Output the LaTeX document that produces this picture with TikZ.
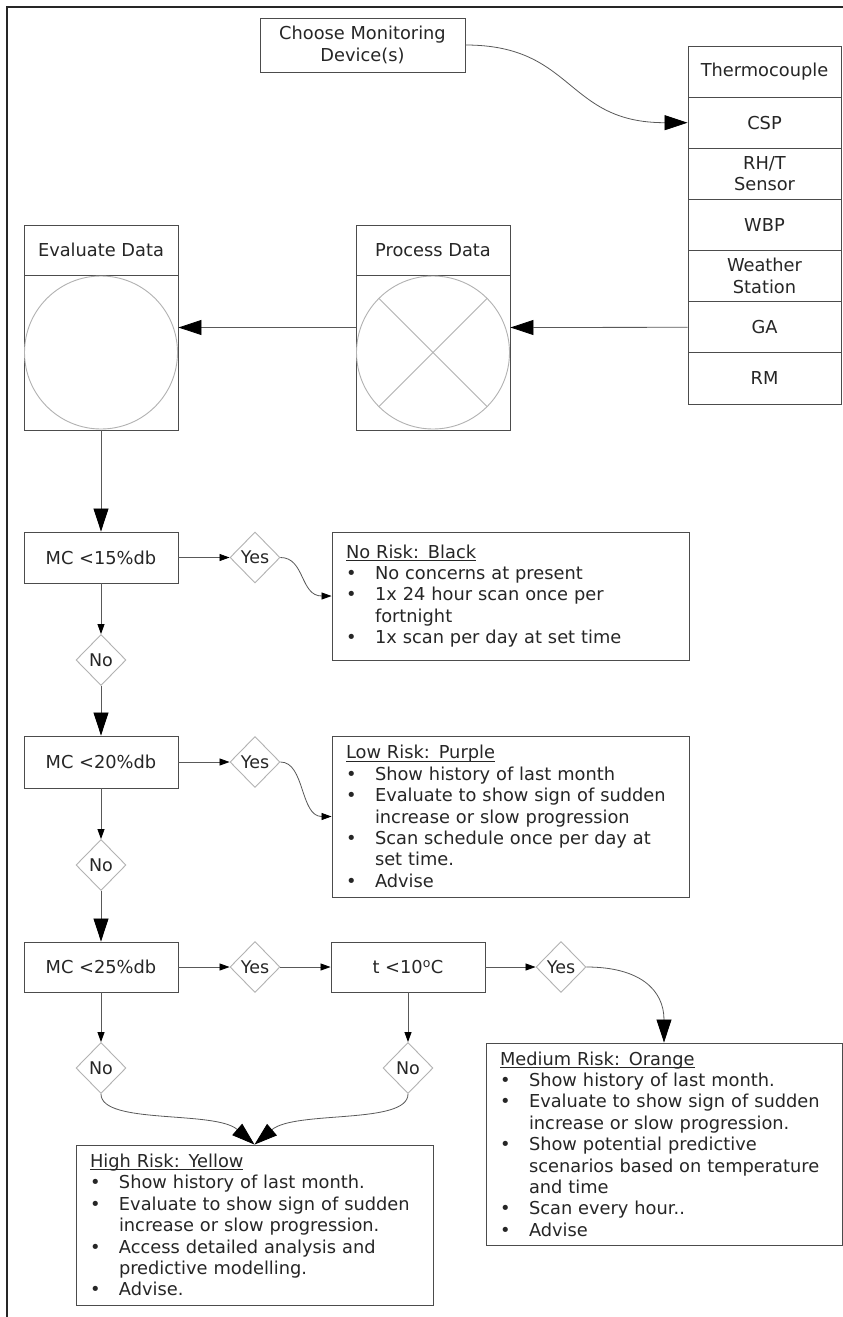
\documentclass[tikz,border=0pt]{standalone}
\usepackage{fontspec}
\setmainfont{DejaVu Sans}
\usetikzlibrary{arrows.meta,shapes.geometric}
\newcommand\bl{\makebox[29pt][l]{\textbullet}}
\newcommand\ind{\hspace*{29pt}}
\newcommand\ttl[1]{\setbox0\hbox{#1}\rlap{\rule[-2.5pt]{\wd0}{0.7pt}}\box0}
\begin{document}
\begin{tikzpicture}[x=1pt,y=-1pt,
  labbox/.style={draw=black!70, line width=0.9pt, inner sep=0pt, text=black!85,
    font=\fontsize{17.8}{21.5}\selectfont, align=center},
  devrow/.style={labbox, minimum width=153pt, minimum height=51.14pt},
  riskbox/.style={draw=black!70, line width=0.9pt, inner xsep=14pt, inner ysep=0pt,
    text=black!85, font=\fontsize{17.8}{21.4}\selectfont, align=left},
  dia/.style={diamond, draw=black!30, line width=0.9pt, minimum width=50pt,
    minimum height=51pt, inner sep=0pt, text=black!85, font=\fontsize{17.5}{20}\selectfont},
  lbl/.style={text=black!85, font=\fontsize{17.8}{21.5}\selectfont, inner sep=0pt},
  thin/.style={draw=black!30, line width=0.9pt},
  conn/.style={draw=black!65, line width=0.8pt},
  bigarr/.style={-{Triangle[length=23pt,width=15pt,color=black]}},
  smallarr/.style={-{Triangle[length=10pt,width=7pt,color=black]}}
]
\useasboundingbox (0,0) rectangle (843,1317);
\fill[white] (0,0) rectangle (843,1317);
% frame
\draw[line width=2pt, black!85] (7,1317) -- (7,7) -- (843,7);

% choose
\node[labbox, minimum width=205pt, minimum height=54pt] (choose) at (362.5,45) {Choose Monitoring\\Device(s)};

% devices
\node[devrow] (dev1) at (764.5,71.6) {Thermocouple};
\node[devrow] (dev2) at (764.5,122.7) {CSP};
\node[devrow] (dev3) at (764.5,173.8) {RH/T\\Sensor};
\node[devrow] (dev4) at (764.5,225.0) {WBP};
\node[devrow] (dev5) at (764.5,276.1) {Weather\\Station};
\node[devrow] (dev6) at (764.5,327.3) {GA};
\node[devrow] (dev7) at (764.5,378.4) {RM};

% evaluate / process
\node[labbox, minimum width=154pt, minimum height=205pt] (eval) at (101,327.5) {};
\node[labbox, minimum width=154pt, minimum height=205pt] (proc) at (433,327.5) {};
\draw[draw=black!70, line width=0.9pt] (24,275) -- (178,275);
\draw[draw=black!70, line width=0.9pt] (356,275) -- (510,275);
\node[lbl] (evalt) at (101,250) {Evaluate Data};
\node[lbl] (proct) at (433,250) {Process Data};
\draw[thin] (101,352.5) circle[radius=76.5pt];
\draw[thin] (433,352.5) circle[radius=76.5pt];
\draw[thin] (378.9,298.4) -- (487.1,406.6);
\draw[thin] (378.9,406.6) -- (487.1,298.4);

% decisions
\node[labbox, minimum width=154pt, minimum height=51pt] (mc15) at (101,557.5) {MC <15\%db};
\node[dia] (yes1) at (255,557.5) {Yes};
\node[dia] (no1) at (101,660) {No};
\node[labbox, minimum width=154pt, minimum height=52pt] (mc20) at (101,762) {MC <20\%db};
\node[dia] (yes2) at (255,762) {Yes};
\node[dia] (no2) at (101,865) {No};
\node[labbox, minimum width=154pt, minimum height=50pt] (mc25) at (101,967) {MC <25\%db};
\node[dia] (yes3) at (255,967) {Yes};
\node[labbox, minimum width=154pt, minimum height=50pt] (t10) at (408,967) {t <10\textsuperscript{o}C};
\node[dia] (yes4) at (561,967) {Yes};
\node[dia] (no3) at (101,1068) {No};
\node[dia] (no4) at (408,1068) {No};

% risk boxes
\node[riskbox, minimum width=357pt, minimum height=128pt, text width=329pt] (norisk) at (510.5,596) {%
\ttl{No Risk: Black}\\
\bl No concerns at present\\
\bl 1x 24 hour scan once per\\
\ind fortnight\\
\bl 1x scan per day at set time};

\node[riskbox, minimum width=357pt, minimum height=161pt, text width=329pt] (lowrisk) at (510.5,816.5) {%
\ttl{Low Risk: Purple}\\
\bl Show history of last month\\
\bl Evaluate to show sign of sudden\\
\ind increase or slow progression\\
\bl Scan schedule once per day at\\
\ind set time.\\
\bl Advise};

\node[riskbox, minimum width=356pt, minimum height=202pt, text width=328pt] (medium) at (664,1144) {%
\ttl{Medium Risk: Orange}\\
\bl Show history of last month.\\
\bl Evaluate to show sign of sudden\\
\ind increase or slow progression.\\
\bl Show potential predictive\\
\ind scenarios based on temperature\\
\ind and time\\
\bl Scan every hour..\\
\bl Advise};

\node[riskbox, minimum width=357pt, minimum height=160pt, text width=329pt] (high) at (254.5,1225) {%
\ttl{High Risk: Yellow}\\
\bl Show history of last month.\\
\bl Evaluate to show sign of sudden\\
\ind increase or slow progression.\\
\bl Access detailed analysis and\\
\ind predictive modelling.\\
\bl Advise.};

% connectors
\draw[conn, bigarr] (choose.east) .. controls (575,45) and (565,122.7) .. (dev2.west);
\draw[conn, bigarr] (dev6.west) -- (proc.east);
\draw[conn, bigarr] (proc.west) -- (eval.east);
\draw[conn, bigarr] (eval.south) -- (mc15.north);
\draw[conn, smallarr] (mc15.east) -- (yes1.west);
\draw[conn, smallarr] (yes1.east) .. controls (305,557.5) and (300,596) .. (norisk.west);
\draw[conn, smallarr] (mc15.south) -- (no1.north);
\draw[conn, bigarr] (no1.south) -- (mc20.north);
\draw[conn, smallarr] (mc20.east) -- (yes2.west);
\draw[conn, smallarr] (yes2.east) .. controls (305,762) and (300,816.5) .. (lowrisk.west);
\draw[conn, smallarr] (mc20.south) -- (no2.north);
\draw[conn, bigarr] (no2.south) -- (mc25.north);
\draw[conn, smallarr] (mc25.east) -- (yes3.west);
\draw[conn, smallarr] (yes3.east) -- (t10.west);
\draw[conn, smallarr] (t10.east) -- (yes4.west);
\draw[conn, bigarr] (yes4.east) .. controls (640,967) and (664,990) .. (medium.north);
\draw[conn, smallarr] (mc25.south) -- (no3.north);
\draw[conn, smallarr] (t10.south) -- (no4.north);
\draw[conn, bigarr] (no3.south) .. controls (101,1125) and (215,1110) .. (high.north);
\draw[conn, bigarr] (no4.south) .. controls (408,1125) and (295,1110) .. (high.north);
\end{tikzpicture}
\end{document}
